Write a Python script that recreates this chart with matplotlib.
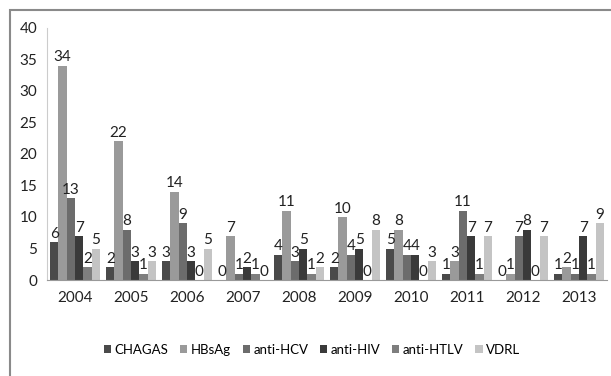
import matplotlib.pyplot as plt
import numpy as np
from matplotlib.patches import Rectangle

plt.rcParams['font.family'] = ['Lato', 'DejaVu Sans']

years = ['2004', '2005', '2006', '2007', '2008', '2009', '2010', '2011', '2012', '2013']
series = ['CHAGAS', 'HBsAg', 'anti-HCV', 'anti-HIV', 'anti-HTLV', 'VDRL']
chagas = [6, 2, 3, 0, 4, 2, 5, 1, 0, 1]
hbsag = [34, 22, 14, 7, 11, 10, 8, 3, 1, 2]
anti_hcv = [13, 8, 9, 1, 3, 4, 4, 11, 7, 1]
anti_hiv = [7, 3, 3, 2, 5, 5, 4, 7, 8, 7]
anti_htlv = [2, 1, 0, 1, 1, 0, 0, 1, 0, 1]
vdrl = [5, 3, 5, 0, 2, 8, 3, 7, 7, 9]
values = [chagas, hbsag, anti_hcv, anti_hiv, anti_htlv, vdrl]
colors = ['#4a4a4a', '#9a9a9a', '#6c6c6c', '#3a3a3a', '#7e7e7e', '#c4c4c4']

fig = plt.figure(figsize=(6.11, 3.76), dpi=100)
# outer frame
fig.patches.append(Rectangle((10/611, -0.1), 1.2, 1 - 10/376 + 0.1, transform=fig.transFigure,
                             fill=False, edgecolor='#8a8a8a', linewidth=1.5))
ax = fig.add_axes([47/611, 1 - 280/376, 560/611, 252/376])

x = np.arange(len(years))
w = 0.148
for i, (name, vals) in enumerate(zip(series, values)):
    pos = x + (i - 2.5) * w
    bars = ax.bar(pos, vals, w, color=colors[i], label=name)
    ax.bar_label(bars, padding=1, fontsize=11, color='#222222')

ax.set_xlim(-0.5, len(years) - 0.5)
ax.set_ylim(0, 40)
ax.set_yticks(range(0, 41, 5))
ax.set_xticks(x)
ax.set_xticklabels(years)
ax.tick_params(axis='both', length=0, labelsize=11, colors='#222222')
ax.tick_params(axis='y', pad=7)
ax.tick_params(axis='x', pad=8)
for s in ['top', 'right']:
    ax.spines[s].set_visible(False)
ax.spines['left'].set_color('#cccccc')
ax.spines['bottom'].set_color('#999999')

ax.legend(loc='upper center', bbox_to_anchor=(0.473, -0.205), ncol=6, frameon=False,
          fontsize=9.5, handlelength=0.55, handleheight=0.55, handletextpad=0.25,
          columnspacing=0.9)

fig.savefig('out.png', dpi=100)
